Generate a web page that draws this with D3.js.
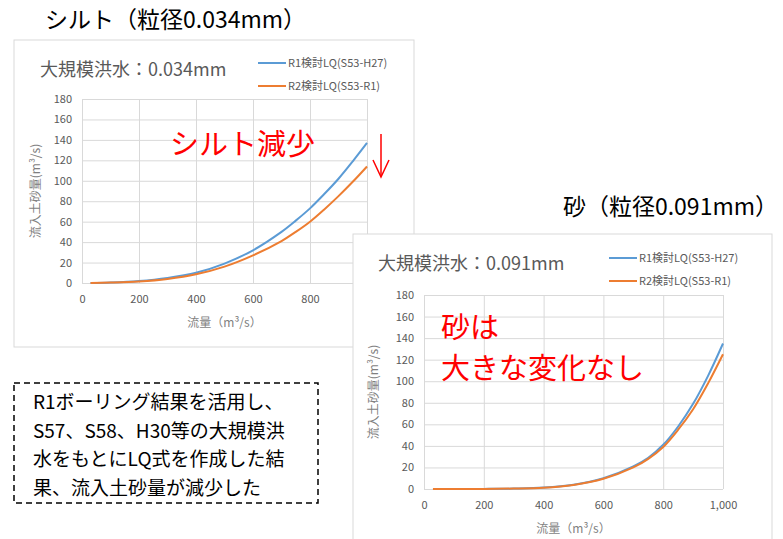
<!doctype html>
<html>
<head>
<meta charset="utf-8">
<script src="https://cdn.jsdelivr.net/npm/d3@7"></script>
<style>
  body { margin: 0; background: #fff; }
  text { font-family: "Noto Sans CJK JP", "Noto Sans", sans-serif; }
</style>
</head>
<body>
<script>
// flow (m3/s) where values were read
var flow = [30, 100, 200, 300, 400, 500, 600, 700, 750, 800, 850, 900, 950, 1000];

// silt 0.034mm
var siltR1 = [0, 0.5, 2, 5, 10, 19, 32, 50, 61, 73, 87, 102, 119, 137];
var siltR2 = [0, 0.4, 1.5, 4, 8.5, 16, 27, 41, 50, 60, 72, 85, 99, 114];

// sand 0.091mm
var sandR1 = [0, 0, 0.1, 0.4, 1.3, 4, 10, 21, 29, 41, 58, 79, 105, 135];
var sandR2 = [0, 0, 0.1, 0.4, 1.2, 3.8, 9.5, 20, 28, 39, 55, 74, 98, 125];

var xTicks = [0, 200, 400, 600, 800, 1000];
var yTicks = [0, 20, 40, 60, 80, 100, 120, 140, 160, 180];
var seriesNames = ["R1検討LQ(S53-H27)", "R2検討LQ(S53-R1)"];
var colors = ["#5b9bd5", "#ed7d31"];

var W = 783, H = 539;
var svg = d3.select("body").append("svg")
  .attr("width", W).attr("height", H);

function drawChart(cfg) {
  var g = svg.append("g");

  // card
  g.append("rect")
    .attr("x", cfg.card[0]).attr("y", cfg.card[1])
    .attr("width", cfg.card[2]).attr("height", cfg.card[3])
    .attr("fill", "#fff").attr("stroke", "#d9d9d9");

  var x = d3.scaleLinear().domain([0, 1000]).range([cfg.plot.left, cfg.plot.right]);
  var y = d3.scaleLinear().domain([0, 180]).range([cfg.plot.bottom, cfg.plot.top]);

  // gridlines + axes
  var yAxis = d3.axisLeft(y).tickValues(yTicks)
    .tickSize(-(cfg.plot.right - cfg.plot.left)).tickPadding(10);
  var ya = g.append("g")
    .attr("transform", "translate(" + cfg.plot.left + ",0)")
    .call(yAxis);
  var xAxis = d3.axisBottom(x).tickValues(xTicks).tickFormat(d3.format(","))
    .tickSize(-(cfg.plot.bottom - cfg.plot.top)).tickPadding(12);
  var xa = g.append("g")
    .attr("transform", "translate(0," + cfg.plot.bottom + ")")
    .call(xAxis);
  [ya, xa].forEach(function(a) {
    a.select(".domain").remove();
    a.selectAll("line").attr("stroke", "#d9d9d9");
    a.selectAll("text").attr("fill", "#595959").style("font-size", "11px");
  });

  // lines
  var line = d3.line()
    .x(function(d, i) { return x(flow[i]); })
    .y(function(d) { return y(d); })
    .curve(d3.curveCatmullRom.alpha(0.5));
  cfg.series.forEach(function(s, i) {
    g.append("path")
      .datum(s)
      .attr("fill", "none")
      .attr("stroke", colors[i])
      .attr("stroke-width", 2)
      .attr("d", line);
  });

  // title
  g.append("text")
    .attr("x", cfg.title[0]).attr("y", cfg.title[1])
    .attr("fill", "#595959").style("font-size", "18px")
    .text(cfg.titleText);

  // legend
  seriesNames.forEach(function(n, i) {
    var ly = cfg.legend[1] + i * 23;
    g.append("line")
      .attr("x1", cfg.legend[0]).attr("x2", cfg.legend[0] + 28)
      .attr("y1", ly).attr("y2", ly)
      .attr("stroke", colors[i]).attr("stroke-width", 2);
    g.append("text")
      .attr("x", cfg.legend[0] + 30).attr("y", ly + 4)
      .attr("fill", "#595959").style("font-size", "11px")
      .text(n);
  });

  // axis titles
  g.append("text")
    .attr("x", (cfg.plot.left + cfg.plot.right) / 2).attr("y", cfg.xLabelY)
    .attr("text-anchor", "middle").attr("fill", "#7f7f7f").style("font-size", "12px")
    .text("流量（m³/s）");
  g.append("text")
    .attr("transform", "translate(" + cfg.yLabelX + "," + (cfg.plot.top + cfg.plot.bottom) / 2 + ") rotate(-90)")
    .attr("text-anchor", "middle").attr("fill", "#7f7f7f").style("font-size", "12px")
    .text("流入土砂量(m³/s)");
  return g;
}

// silt chart (left)
drawChart({
  card: [14, 40, 400, 307],
  plot: {left: 82, right: 367, top: 99, bottom: 283},
  series: [siltR1, siltR2],
  title: [40, 76], titleText: "大規模洪水：0.034mm",
  legend: [258, 63],
  xLabelY: 327, yLabelX: 40
});

svg.append("text")
  .attr("x", 45).attr("y", 28)
  .attr("fill", "#000").style("font-size", "23px")
  .text("シルト（粒径0.034mm）");

svg.append("text")
  .attr("x", 170).attr("y", 155)
  .attr("fill", "#ff0000").style("font-size", "29px")
  .text("シルト減少");

// red arrow
svg.append("line")
  .attr("x1", 381).attr("x2", 381).attr("y1", 134).attr("y2", 176)
  .attr("stroke", "#ff0000").attr("stroke-width", 1.5);
svg.append("polyline")
  .attr("points", "373,160 381,177 389,160")
  .attr("fill", "none").attr("stroke", "#ff0000").attr("stroke-width", 1.5);

// sand chart (right)
drawChart({
  card: [353, 234, 419, 320],
  plot: {left: 424, right: 723, top: 295, bottom: 489},
  series: [sandR1, sandR2],
  title: [378, 270], titleText: "大規模洪水：0.091mm",
  legend: [609, 258],
  xLabelY: 533, yLabelX: 378
});

svg.append("text")
  .attr("x", 778).attr("y", 215)
  .attr("text-anchor", "end")
  .attr("fill", "#000").style("font-size", "23px")
  .text("砂（粒径0.091mm）");

svg.append("text")
  .attr("x", 441).attr("y", 338)
  .attr("fill", "#ff0000").style("font-size", "29px")
  .text("砂は");
svg.append("text")
  .attr("x", 441).attr("y", 379)
  .attr("fill", "#ff0000").style("font-size", "29px")
  .text("大きな変化なし");

// note box
var note = ["R1ボーリング結果を活用し、", "S57、S58、H30等の大規模洪", "水をもとにLQ式を作成した結", "果、流入土砂量が減少した"];
svg.append("rect")
  .attr("x", 14).attr("y", 383).attr("width", 304).attr("height", 120)
  .attr("fill", "#fff").attr("stroke", "#000").attr("stroke-width", 1.5)
  .attr("stroke-dasharray", "6,4");
note.forEach(function(t, i) {
  svg.append("text")
    .attr("x", 33).attr("y", 409 + i * 28.5)
    .attr("fill", "#000").style("font-size", "19px")
    .text(t);
});
</script>
</body>
</html>
